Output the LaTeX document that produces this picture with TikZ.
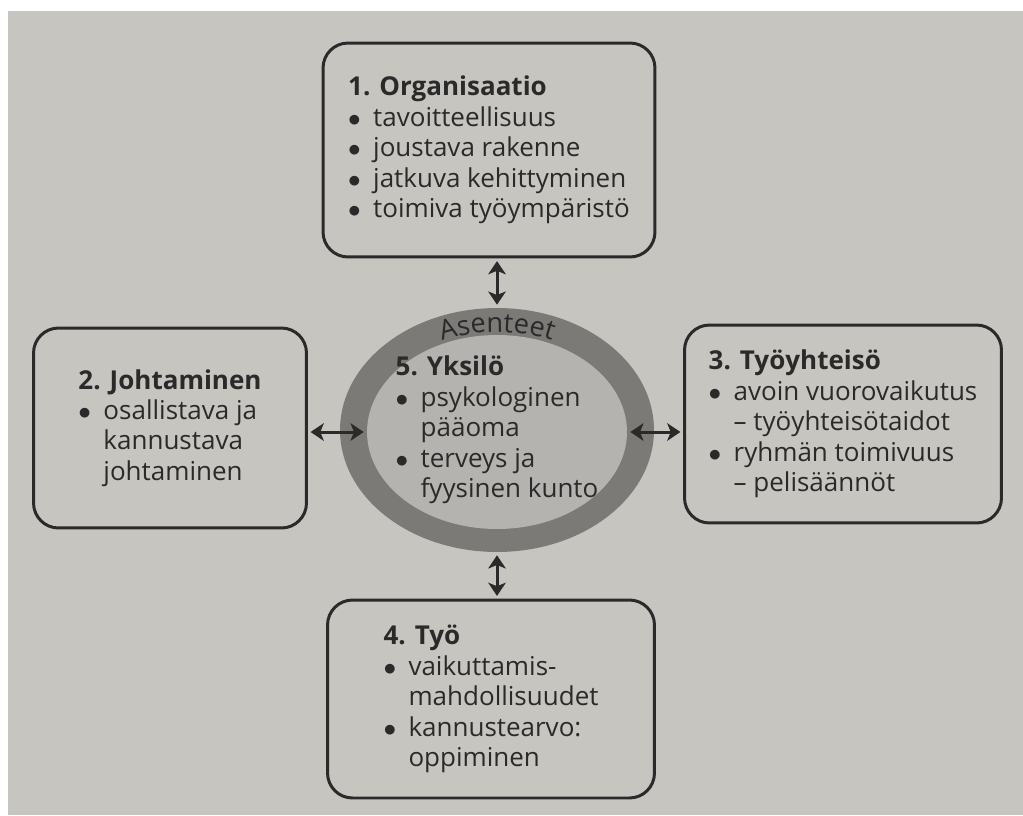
\documentclass[tikz,border=0pt]{standalone}
\usepackage{fontspec}
\setmainfont{Open Sans}
\usetikzlibrary{shapes.geometric,arrows.meta,decorations.text}
\definecolor{paper}{RGB}{199,197,191}
\definecolor{ring}{RGB}{124,122,119}
\definecolor{core}{RGB}{181,179,175}
\definecolor{ink}{RGB}{42,42,42}
\newcommand{\bul}{\makebox[0.5cm][l]{$\bullet$}}
\newcommand{\indt}{\hspace*{0.5cm}}

\begin{document}
\begin{tikzpicture}[x=0.02cm, y=-0.02cm, thick,
		txt/.style={align=left, text=ink, font=\fontsize{14.8}{17.3}\selectfont},
		main/.style={txt, draw=ink, line width=1.7pt, rounded corners=0.5cm, inner sep=0pt},
		oval/.style={ellipse, inner sep=0pt},
		link/.style={{Stealth[length=7.5pt,width=10pt,inset=2pt]}-{Stealth[length=7.5pt,width=10pt,inset=2pt]}, line width=1.7pt, draw=ink, shorten <=1.5pt, shorten >=1.5pt}]
		\fill[white] (0,0) rectangle (1023,815);
		\fill[paper] (8,11) rectangle (1023,815);

		\node[main, minimum width=6.64cm, minimum height=4.28cm] (1) at (489,150) {\textbf{1. Organisaatio}\\ \bul tavoitteellisuus\\ \bul joustava rakenne\\ \bul jatkuva kehittyminen\\ \bul toimiva työympäristö};
		\node[main, minimum width=5.46cm, minimum height=4cm] (2) at (170,428) {\textbf{2. Johtaminen}\\ \bul osallistava ja\\ \indt kannustava\\ \indt johtaminen};
		\node[main, minimum width=6.34cm, minimum height=3.96cm] (3) at (843,424) {\textbf{3. Työyhteisö}\\ \bul avoin vuorovaikutus\\ \indt – työyhteisötaidot\\ \bul ryhmän toimivuus\\ \indt – pelisäännöt};
		\node[main, minimum width=6.54cm, minimum height=3.96cm] (4) at (491,699) {\textbf{4. Työ}\\ \bul vaikuttamis-\\ \indt mahdollisuudet\\ \bul kannustearvo:\\ \indt oppiminen};

		\node[oval, fill=ring, minimum width=6.28cm, minimum height=4.88cm] (5) at (497,430) {};
		\node[oval, fill=core, minimum width=5.2cm, minimum height=3.88cm] (c) at (497,432) {};
		\path[decorate, decoration={text along path, text align=center, text={|\fontsize{15.5}{17}\selectfont\color{ink}|Asenteet}}] (497,432) ++(150:2.7cm and 2cm) arc[start angle=150, end angle=30, x radius=2.7cm, y radius=2cm];
		\node[txt, inner sep=0pt] (t) at (497,430) {\textbf{5. Yksilö}\\ \bul psykologinen\\ \indt pääoma\\ \bul terveys ja\\ \indt fyysinen kunto};

		\draw[link] (5.north) -- (5.north |- 1.south);
		\draw[link] (c.west) -- (c.west -| 2.east);
		\draw[link] (c.east) -- (c.east -| 3.west);
		\draw[link] (5.south) -- (5.south |- 4.north);
	\end{tikzpicture}
\end{document}
